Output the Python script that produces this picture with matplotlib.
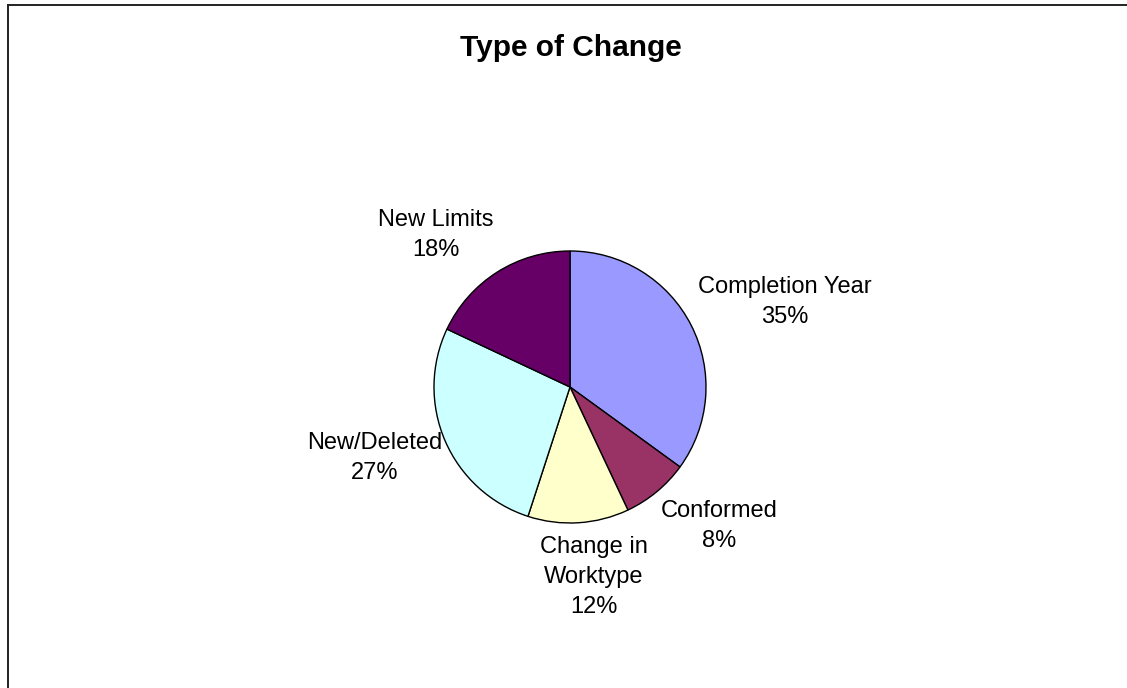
import matplotlib
matplotlib.use("Agg")
import matplotlib.pyplot as plt
from matplotlib.lines import Line2D

categories = ["Completion Year", "Conformed", "Change in\nWorktype", "New/Deleted", "New Limits"]
values = [35, 8, 12, 27, 18]
colors = ["#9999FF", "#993366", "#FFFFCC", "#CCFFFF", "#660066"]
title = "Type of Change"

plt.rcParams['font.family'] = ['Liberation Sans', 'DejaVu Sans']

W, H = 1127, 688
fig = plt.figure(figsize=(W / 100, H / 100), dpi=100)
fig.patch.set_facecolor("white")

# border (top and left visible)
bx, by = 7.5, 4.5
fig.add_artist(Line2D([bx / W, bx / W], [0, 1 - by / H], transform=fig.transFigure,
                      color="#222222", linewidth=1.4, solid_capstyle="projecting"))
fig.add_artist(Line2D([bx / W, 1], [1 - by / H, 1 - by / H], transform=fig.transFigure,
                      color="#222222", linewidth=1.4, solid_capstyle="projecting"))

cx, cy, r = 570, 387, 136
ax = fig.add_axes([(cx - r) / W, (H - cy - r) / H, 2 * r / W, 2 * r / H])
ax.pie(values, colors=colors, startangle=90, counterclock=False, radius=1,
       wedgeprops=dict(edgecolor="black", linewidth=1.0))
ax.set_xlim(-1, 1)
ax.set_ylim(-1, 1)
ax.set_aspect("auto")
ax.axis("off")

# label centres in pixel coordinates (layout)
label_px = [(785, 302), (719, 526), (594, 577), (375, 458), (436, 235)]
total = sum(values)
for cat, v, (lx, ly) in zip(categories, values, label_px):
    fig.text(lx / W, 1 - ly / H, f"{cat}\n{round(100 * v / total)}%", ha="center", va="center",
             fontsize=17, linespacing=1.45, color="black")

fig.text(571 / W, 1 - 48 / H, title, ha="center", va="center", fontsize=21.5, fontweight="bold")

fig.savefig("out.png", dpi=100)
